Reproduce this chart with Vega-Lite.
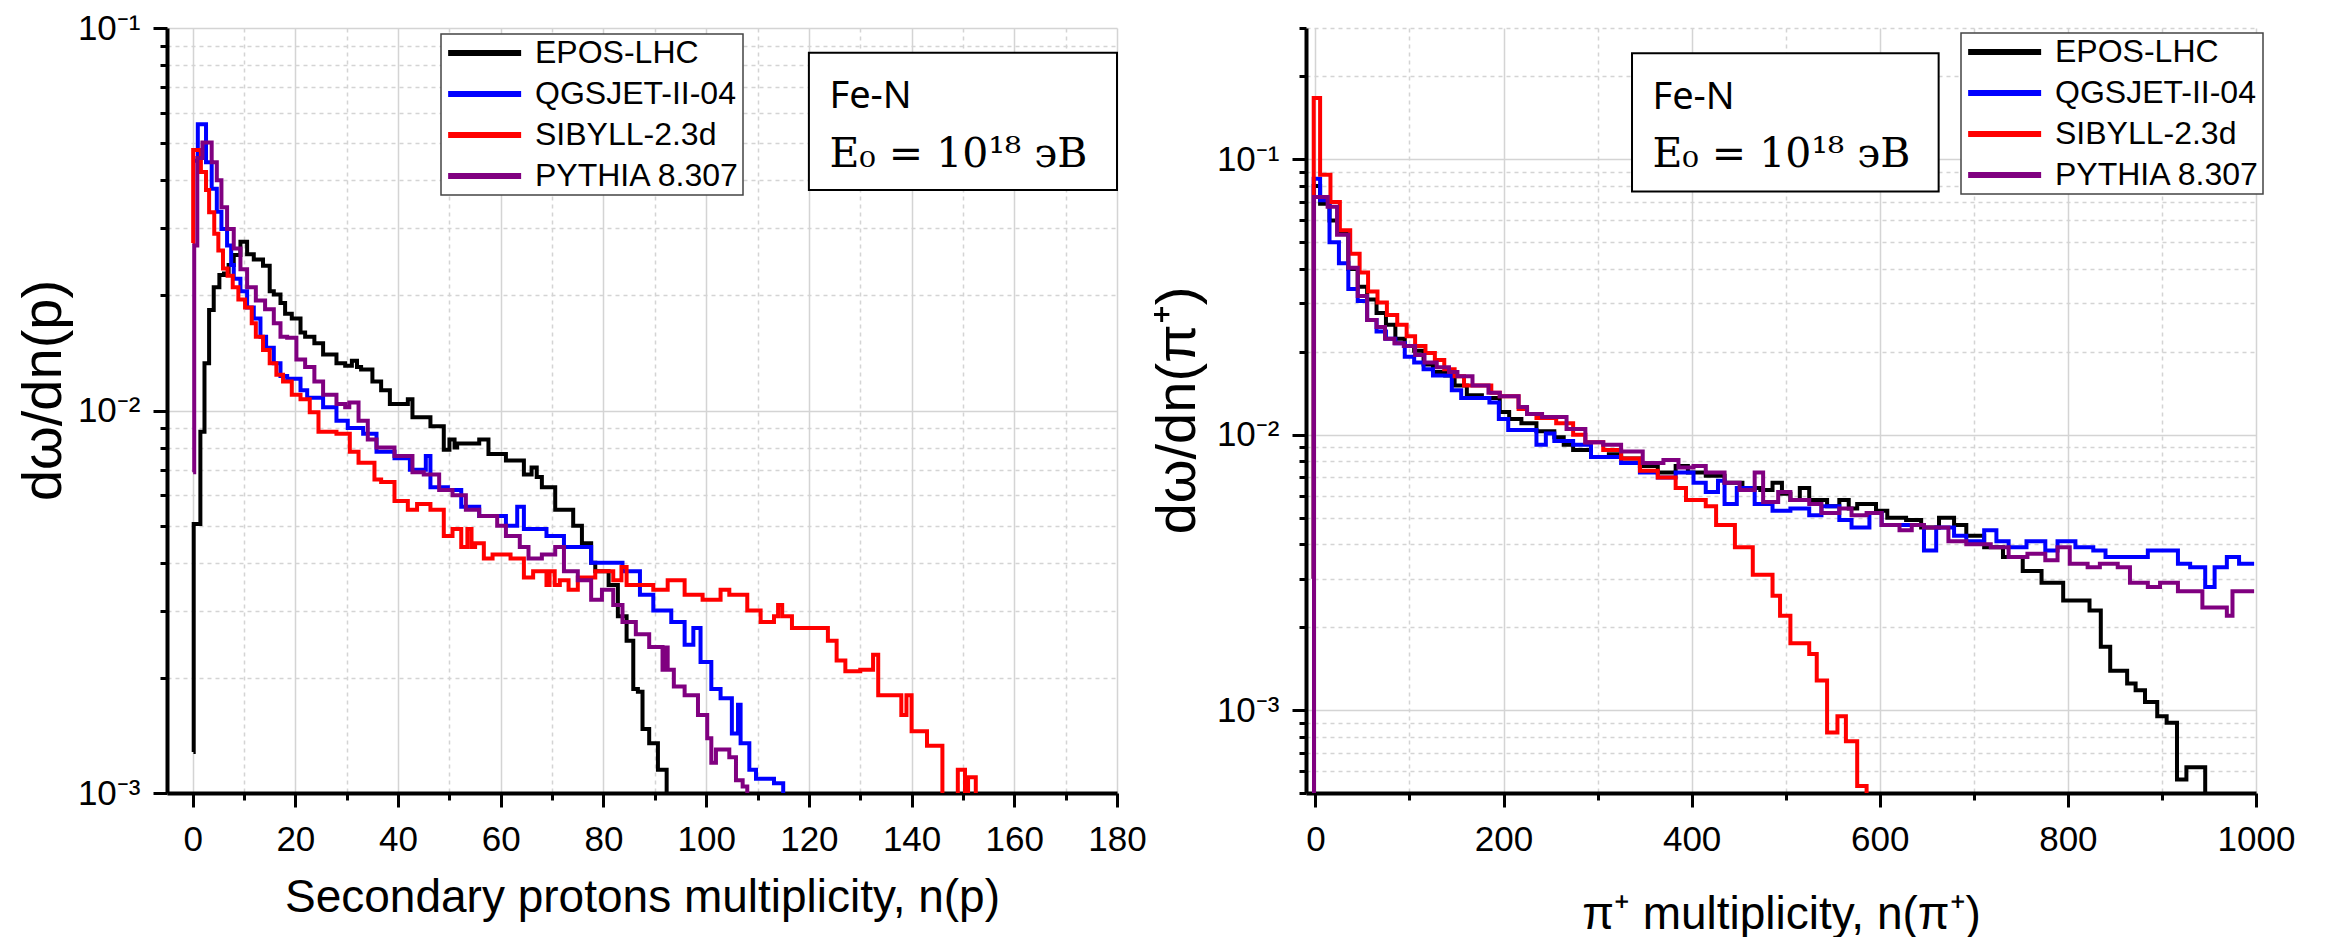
{
"$schema": "https://vega.github.io/schema/vega-lite/v6.json",
"padding": {"left": 15, "top": 11, "right": 0, "bottom": 0},
"spacing": 189,
"bounds": "flush",
"datasets": {
"p": [
{"s":"EPOS-LHC","n":0.15,"v":0.00128},{"s":"EPOS-LHC","n":0.2,"v":0.00505},{"s":"EPOS-LHC","n":1.5,"v":0.0088},{"s":"EPOS-LHC","n":2.3,"v":0.0133},{"s":"EPOS-LHC","n":3.2,"v":0.0183},{"s":"EPOS-LHC","n":4.1,"v":0.021},{"s":"EPOS-LHC","n":5.2,"v":0.0226},{"s":"EPOS-LHC","n":6.1,"v":0.0228},{"s":"EPOS-LHC","n":7,"v":0.024},{"s":"EPOS-LHC","n":8,"v":0.0255},{"s":"EPOS-LHC","n":9.3,"v":0.0276},{"s":"EPOS-LHC","n":10.6,"v":0.0256},{"s":"EPOS-LHC","n":11.9,"v":0.0248},{"s":"EPOS-LHC","n":13.7,"v":0.0239},{"s":"EPOS-LHC","n":15,"v":0.0205},{"s":"EPOS-LHC","n":15.8,"v":0.0201},{"s":"EPOS-LHC","n":17.1,"v":0.0191},{"s":"EPOS-LHC","n":18,"v":0.0179},{"s":"EPOS-LHC","n":19.3,"v":0.0174},{"s":"EPOS-LHC","n":21,"v":0.016},{"s":"EPOS-LHC","n":21.9,"v":0.0156},{"s":"EPOS-LHC","n":23.7,"v":0.015},{"s":"EPOS-LHC","n":25.4,"v":0.014},{"s":"EPOS-LHC","n":28,"v":0.0133},{"s":"EPOS-LHC","n":29.7,"v":0.0131},{"s":"EPOS-LHC","n":31,"v":0.0135},{"s":"EPOS-LHC","n":32,"v":0.013},{"s":"EPOS-LHC","n":32.8,"v":0.0128},{"s":"EPOS-LHC","n":35,"v":0.0119},{"s":"EPOS-LHC","n":36.7,"v":0.0113},{"s":"EPOS-LHC","n":38.4,"v":0.0104},{"s":"EPOS-LHC","n":41.9,"v":0.0107},{"s":"EPOS-LHC","n":42.8,"v":0.0096},{"s":"EPOS-LHC","n":46.3,"v":0.0091},{"s":"EPOS-LHC","n":48.9,"v":0.0079},{"s":"EPOS-LHC","n":50,"v":0.0084},{"s":"EPOS-LHC","n":51,"v":0.008},{"s":"EPOS-LHC","n":51.5,"v":0.0082},{"s":"EPOS-LHC","n":55.8,"v":0.0084},{"s":"EPOS-LHC","n":57.6,"v":0.0077},{"s":"EPOS-LHC","n":61,"v":0.0074},{"s":"EPOS-LHC","n":64.5,"v":0.0068},{"s":"EPOS-LHC","n":66,"v":0.0071},{"s":"EPOS-LHC","n":67,"v":0.0067},{"s":"EPOS-LHC","n":68,"v":0.0063},{"s":"EPOS-LHC","n":70.6,"v":0.0055},{"s":"EPOS-LHC","n":72.3,"v":0.0055},{"s":"EPOS-LHC","n":74.1,"v":0.005},{"s":"EPOS-LHC","n":75.8,"v":0.0045},{"s":"EPOS-LHC","n":77.6,"v":0.004},{"s":"EPOS-LHC","n":78.4,"v":0.0038},{"s":"EPOS-LHC","n":81,"v":0.0035},{"s":"EPOS-LHC","n":82.8,"v":0.0029},{"s":"EPOS-LHC","n":84.5,"v":0.0025},{"s":"EPOS-LHC","n":85.8,"v":0.00187},{"s":"EPOS-LHC","n":86.7,"v":0.00184},{"s":"EPOS-LHC","n":87.6,"v":0.00147},{"s":"EPOS-LHC","n":88.9,"v":0.00135},{"s":"EPOS-LHC","n":90.6,"v":0.00115},{"s":"EPOS-LHC","n":92.3,"v":0.0005},
{"s":"QGSJET-II-04","n":0.2,"v":0.045},{"s":"QGSJET-II-04","n":1,"v":0.056},{"s":"QGSJET-II-04","n":2.6,"v":0.0446},{"s":"QGSJET-II-04","n":3.7,"v":0.038},{"s":"QGSJET-II-04","n":4.7,"v":0.0331},{"s":"QGSJET-II-04","n":5.6,"v":0.0298},{"s":"QGSJET-II-04","n":6.7,"v":0.027},{"s":"QGSJET-II-04","n":7.5,"v":0.024},{"s":"QGSJET-II-04","n":8,"v":0.0221},{"s":"QGSJET-II-04","n":9.3,"v":0.0205},{"s":"QGSJET-II-04","n":10.6,"v":0.0186},{"s":"QGSJET-II-04","n":11.9,"v":0.0174},{"s":"QGSJET-II-04","n":13.2,"v":0.0156},{"s":"QGSJET-II-04","n":14.3,"v":0.0146},{"s":"QGSJET-II-04","n":15.8,"v":0.0133},{"s":"QGSJET-II-04","n":17.1,"v":0.0123},{"s":"QGSJET-II-04","n":18.4,"v":0.0121},{"s":"QGSJET-II-04","n":21,"v":0.0113},{"s":"QGSJET-II-04","n":22.3,"v":0.0108},{"s":"QGSJET-II-04","n":25.4,"v":0.0102},{"s":"QGSJET-II-04","n":28,"v":0.0094},{"s":"QGSJET-II-04","n":30.2,"v":0.009},{"s":"QGSJET-II-04","n":33.2,"v":0.0087},{"s":"QGSJET-II-04","n":35.8,"v":0.0078},{"s":"QGSJET-II-04","n":39.3,"v":0.0075},{"s":"QGSJET-II-04","n":42.3,"v":0.007},{"s":"QGSJET-II-04","n":45.4,"v":0.0076},{"s":"QGSJET-II-04","n":46.3,"v":0.0063},{"s":"QGSJET-II-04","n":49.7,"v":0.0062},{"s":"QGSJET-II-04","n":52.3,"v":0.0056},{"s":"QGSJET-II-04","n":55.8,"v":0.0053},{"s":"QGSJET-II-04","n":61,"v":0.005},{"s":"QGSJET-II-04","n":63.2,"v":0.0056},{"s":"QGSJET-II-04","n":64.5,"v":0.0049},{"s":"QGSJET-II-04","n":68.9,"v":0.0047},{"s":"QGSJET-II-04","n":72.3,"v":0.0044},{"s":"QGSJET-II-04","n":77.6,"v":0.004},{"s":"QGSJET-II-04","n":83.7,"v":0.0038},{"s":"QGSJET-II-04","n":87.1,"v":0.0033},{"s":"QGSJET-II-04","n":89.7,"v":0.003},{"s":"QGSJET-II-04","n":93.2,"v":0.0028},{"s":"QGSJET-II-04","n":95.8,"v":0.00244},{"s":"QGSJET-II-04","n":97.5,"v":0.0027},{"s":"QGSJET-II-04","n":98.9,"v":0.0022},{"s":"QGSJET-II-04","n":101,"v":0.00187},{"s":"QGSJET-II-04","n":102.8,"v":0.00177},{"s":"QGSJET-II-04","n":105,"v":0.00143},{"s":"QGSJET-II-04","n":106.2,"v":0.0017},{"s":"QGSJET-II-04","n":106.7,"v":0.00135},{"s":"QGSJET-II-04","n":108.4,"v":0.00115},{"s":"QGSJET-II-04","n":109.7,"v":0.00109},{"s":"QGSJET-II-04","n":113.2,"v":0.00106},{"s":"QGSJET-II-04","n":115,"v":0.0005},
{"s":"SIBYLL-2.3d","n":0,"v":0.0274},{"s":"SIBYLL-2.3d","n":0.1,"v":0.048},{"s":"SIBYLL-2.3d","n":1.6,"v":0.042},{"s":"SIBYLL-2.3d","n":2.6,"v":0.0377},{"s":"SIBYLL-2.3d","n":3.2,"v":0.033},{"s":"SIBYLL-2.3d","n":4.2,"v":0.029},{"s":"SIBYLL-2.3d","n":5,"v":0.0262},{"s":"SIBYLL-2.3d","n":5.9,"v":0.0235},{"s":"SIBYLL-2.3d","n":6.8,"v":0.0225},{"s":"SIBYLL-2.3d","n":7.8,"v":0.021},{"s":"SIBYLL-2.3d","n":8.9,"v":0.0195},{"s":"SIBYLL-2.3d","n":10.2,"v":0.0186},{"s":"SIBYLL-2.3d","n":11.5,"v":0.0169},{"s":"SIBYLL-2.3d","n":12.3,"v":0.0156},{"s":"SIBYLL-2.3d","n":13.7,"v":0.0144},{"s":"SIBYLL-2.3d","n":15,"v":0.0133},{"s":"SIBYLL-2.3d","n":16.3,"v":0.0124},{"s":"SIBYLL-2.3d","n":17.6,"v":0.0119},{"s":"SIBYLL-2.3d","n":19.3,"v":0.011},{"s":"SIBYLL-2.3d","n":21,"v":0.0107},{"s":"SIBYLL-2.3d","n":22.8,"v":0.0099},{"s":"SIBYLL-2.3d","n":24.5,"v":0.0088},{"s":"SIBYLL-2.3d","n":28,"v":0.0087},{"s":"SIBYLL-2.3d","n":30.6,"v":0.0078},{"s":"SIBYLL-2.3d","n":32.3,"v":0.0073},{"s":"SIBYLL-2.3d","n":35.4,"v":0.0066},{"s":"SIBYLL-2.3d","n":36.7,"v":0.0065},{"s":"SIBYLL-2.3d","n":39.3,"v":0.0058},{"s":"SIBYLL-2.3d","n":41.9,"v":0.0055},{"s":"SIBYLL-2.3d","n":43.7,"v":0.0057},{"s":"SIBYLL-2.3d","n":46.3,"v":0.0055},{"s":"SIBYLL-2.3d","n":48.9,"v":0.0047},{"s":"SIBYLL-2.3d","n":50.6,"v":0.0049},{"s":"SIBYLL-2.3d","n":52.3,"v":0.0044},{"s":"SIBYLL-2.3d","n":53.5,"v":0.0049},{"s":"SIBYLL-2.3d","n":54.3,"v":0.0044},{"s":"SIBYLL-2.3d","n":55,"v":0.0045},{"s":"SIBYLL-2.3d","n":56.7,"v":0.0041},{"s":"SIBYLL-2.3d","n":58.4,"v":0.0042},{"s":"SIBYLL-2.3d","n":61.9,"v":0.0041},{"s":"SIBYLL-2.3d","n":64.5,"v":0.00366},{"s":"SIBYLL-2.3d","n":66.3,"v":0.0038},{"s":"SIBYLL-2.3d","n":68.9,"v":0.0035},{"s":"SIBYLL-2.3d","n":69.5,"v":0.0038},{"s":"SIBYLL-2.3d","n":70.5,"v":0.0035},{"s":"SIBYLL-2.3d","n":71.5,"v":0.0036},{"s":"SIBYLL-2.3d","n":73.2,"v":0.0034},{"s":"SIBYLL-2.3d","n":75,"v":0.00366},{"s":"SIBYLL-2.3d","n":78.4,"v":0.0038},{"s":"SIBYLL-2.3d","n":81.9,"v":0.0036},{"s":"SIBYLL-2.3d","n":83.5,"v":0.0039},{"s":"SIBYLL-2.3d","n":84.5,"v":0.0035},{"s":"SIBYLL-2.3d","n":87.1,"v":0.0035},{"s":"SIBYLL-2.3d","n":89.7,"v":0.0034},{"s":"SIBYLL-2.3d","n":92.5,"v":0.0036},{"s":"SIBYLL-2.3d","n":95.8,"v":0.0033},{"s":"SIBYLL-2.3d","n":99.3,"v":0.0032},{"s":"SIBYLL-2.3d","n":102.8,"v":0.0034},{"s":"SIBYLL-2.3d","n":104.5,"v":0.0033},{"s":"SIBYLL-2.3d","n":108,"v":0.003},{"s":"SIBYLL-2.3d","n":110.6,"v":0.0028},{"s":"SIBYLL-2.3d","n":113.2,"v":0.0029},{"s":"SIBYLL-2.3d","n":114,"v":0.0031},{"s":"SIBYLL-2.3d","n":114.8,"v":0.0029},{"s":"SIBYLL-2.3d","n":116.7,"v":0.0027},{"s":"SIBYLL-2.3d","n":120.2,"v":0.0027},{"s":"SIBYLL-2.3d","n":123.7,"v":0.0025},{"s":"SIBYLL-2.3d","n":125.4,"v":0.00222},{"s":"SIBYLL-2.3d","n":127.1,"v":0.00208},{"s":"SIBYLL-2.3d","n":130,"v":0.0021},{"s":"SIBYLL-2.3d","n":132.5,"v":0.0023},{"s":"SIBYLL-2.3d","n":133.5,"v":0.0018},{"s":"SIBYLL-2.3d","n":138,"v":0.0016},{"s":"SIBYLL-2.3d","n":139,"v":0.0018},{"s":"SIBYLL-2.3d","n":140,"v":0.00145},{"s":"SIBYLL-2.3d","n":143,"v":0.00133},{"s":"SIBYLL-2.3d","n":146,"v":0.0008},{"s":"SIBYLL-2.3d","n":149,"v":0.00115},{"s":"SIBYLL-2.3d","n":150.4,"v":0.001},{"s":"SIBYLL-2.3d","n":151,"v":0.0011},{"s":"SIBYLL-2.3d","n":152.5,"v":0.0005},
{"s":"PYTHIA 8.307","n":0.1,"v":0.0069},{"s":"PYTHIA 8.307","n":0.3,"v":0.027},{"s":"PYTHIA 8.307","n":0.9,"v":0.0457},{"s":"PYTHIA 8.307","n":1.9,"v":0.0502},{"s":"PYTHIA 8.307","n":3.7,"v":0.0446},{"s":"PYTHIA 8.307","n":4.7,"v":0.04},{"s":"PYTHIA 8.307","n":5.6,"v":0.034},{"s":"PYTHIA 8.307","n":6.7,"v":0.0298},{"s":"PYTHIA 8.307","n":8,"v":0.0265},{"s":"PYTHIA 8.307","n":9.3,"v":0.0234},{"s":"PYTHIA 8.307","n":10.6,"v":0.021},{"s":"PYTHIA 8.307","n":12.3,"v":0.0194},{"s":"PYTHIA 8.307","n":14.1,"v":0.0184},{"s":"PYTHIA 8.307","n":15.8,"v":0.0169},{"s":"PYTHIA 8.307","n":17.1,"v":0.0156},{"s":"PYTHIA 8.307","n":18.4,"v":0.0155},{"s":"PYTHIA 8.307","n":20.2,"v":0.0136},{"s":"PYTHIA 8.307","n":21.9,"v":0.013},{"s":"PYTHIA 8.307","n":23.7,"v":0.0119},{"s":"PYTHIA 8.307","n":25.4,"v":0.011},{"s":"PYTHIA 8.307","n":28,"v":0.0104},{"s":"PYTHIA 8.307","n":29.7,"v":0.0102},{"s":"PYTHIA 8.307","n":30.5,"v":0.0105},{"s":"PYTHIA 8.307","n":32.3,"v":0.0094},{"s":"PYTHIA 8.307","n":34.1,"v":0.0084},{"s":"PYTHIA 8.307","n":35.8,"v":0.008},{"s":"PYTHIA 8.307","n":39.3,"v":0.0076},{"s":"PYTHIA 8.307","n":42.8,"v":0.0069},{"s":"PYTHIA 8.307","n":45,"v":0.0068},{"s":"PYTHIA 8.307","n":48,"v":0.0062},{"s":"PYTHIA 8.307","n":50.6,"v":0.006},{"s":"PYTHIA 8.307","n":53.2,"v":0.0055},{"s":"PYTHIA 8.307","n":55.8,"v":0.0053},{"s":"PYTHIA 8.307","n":59.3,"v":0.005},{"s":"PYTHIA 8.307","n":61,"v":0.0047},{"s":"PYTHIA 8.307","n":63.7,"v":0.0044},{"s":"PYTHIA 8.307","n":65.4,"v":0.0041},{"s":"PYTHIA 8.307","n":68,"v":0.0042},{"s":"PYTHIA 8.307","n":70.6,"v":0.0044},{"s":"PYTHIA 8.307","n":72.3,"v":0.0038},{"s":"PYTHIA 8.307","n":75,"v":0.0036},{"s":"PYTHIA 8.307","n":77.6,"v":0.0032},{"s":"PYTHIA 8.307","n":79.7,"v":0.0034},{"s":"PYTHIA 8.307","n":81.9,"v":0.0031},{"s":"PYTHIA 8.307","n":83.7,"v":0.0028},{"s":"PYTHIA 8.307","n":86.3,"v":0.0026},{"s":"PYTHIA 8.307","n":88.9,"v":0.00241},{"s":"PYTHIA 8.307","n":91.5,"v":0.0021},{"s":"PYTHIA 8.307","n":92,"v":0.0024},{"s":"PYTHIA 8.307","n":92.5,"v":0.0021},{"s":"PYTHIA 8.307","n":93.7,"v":0.0019},{"s":"PYTHIA 8.307","n":95.8,"v":0.0018},{"s":"PYTHIA 8.307","n":98.4,"v":0.0016},{"s":"PYTHIA 8.307","n":100.2,"v":0.00139},{"s":"PYTHIA 8.307","n":101,"v":0.0012},{"s":"PYTHIA 8.307","n":101.9,"v":0.0013},{"s":"PYTHIA 8.307","n":104.5,"v":0.00124},{"s":"PYTHIA 8.307","n":105.8,"v":0.00108},{"s":"PYTHIA 8.307","n":107.1,"v":0.00104},{"s":"PYTHIA 8.307","n":108,"v":0.0005}
],
"pi": [
{"s":"EPOS-LHC","n":-2,"v":0.003},{"s":"EPOS-LHC","n":-1.8,"v":0.08},{"s":"EPOS-LHC","n":5,"v":0.069},{"s":"EPOS-LHC","n":15,"v":0.06},{"s":"EPOS-LHC","n":25,"v":0.054},{"s":"EPOS-LHC","n":35,"v":0.04},{"s":"EPOS-LHC","n":45,"v":0.0345},{"s":"EPOS-LHC","n":55,"v":0.031},{"s":"EPOS-LHC","n":65,"v":0.0277},{"s":"EPOS-LHC","n":75,"v":0.0251},{"s":"EPOS-LHC","n":85,"v":0.0223},{"s":"EPOS-LHC","n":95,"v":0.021},{"s":"EPOS-LHC","n":105,"v":0.0202},{"s":"EPOS-LHC","n":115,"v":0.018},{"s":"EPOS-LHC","n":125,"v":0.0169},{"s":"EPOS-LHC","n":138,"v":0.0164},{"s":"EPOS-LHC","n":148,"v":0.0151},{"s":"EPOS-LHC","n":161,"v":0.0139},{"s":"EPOS-LHC","n":177,"v":0.0136},{"s":"EPOS-LHC","n":196,"v":0.0121},{"s":"EPOS-LHC","n":206,"v":0.0114},{"s":"EPOS-LHC","n":219,"v":0.011},{"s":"EPOS-LHC","n":235,"v":0.0103},{"s":"EPOS-LHC","n":254,"v":0.0098},{"s":"EPOS-LHC","n":264,"v":0.0092},{"s":"EPOS-LHC","n":274,"v":0.0088},{"s":"EPOS-LHC","n":293,"v":0.0083},{"s":"EPOS-LHC","n":312,"v":0.0085},{"s":"EPOS-LHC","n":325,"v":0.0082},{"s":"EPOS-LHC","n":345,"v":0.0077},{"s":"EPOS-LHC","n":364,"v":0.0073},{"s":"EPOS-LHC","n":383,"v":0.0077},{"s":"EPOS-LHC","n":396,"v":0.0073},{"s":"EPOS-LHC","n":415,"v":0.0071},{"s":"EPOS-LHC","n":435,"v":0.0067},{"s":"EPOS-LHC","n":454,"v":0.0064},{"s":"EPOS-LHC","n":473,"v":0.0063},{"s":"EPOS-LHC","n":486,"v":0.0067},{"s":"EPOS-LHC","n":496,"v":0.0061},{"s":"EPOS-LHC","n":505,"v":0.0058},{"s":"EPOS-LHC","n":515,"v":0.0064},{"s":"EPOS-LHC","n":525,"v":0.0058},{"s":"EPOS-LHC","n":544,"v":0.0055},{"s":"EPOS-LHC","n":557,"v":0.0058},{"s":"EPOS-LHC","n":567,"v":0.0054},{"s":"EPOS-LHC","n":576,"v":0.0056},{"s":"EPOS-LHC","n":596,"v":0.0053},{"s":"EPOS-LHC","n":608,"v":0.005},{"s":"EPOS-LHC","n":628,"v":0.0049},{"s":"EPOS-LHC","n":644,"v":0.0046},{"s":"EPOS-LHC","n":663,"v":0.005},{"s":"EPOS-LHC","n":679,"v":0.0047},{"s":"EPOS-LHC","n":692,"v":0.0043},{"s":"EPOS-LHC","n":711,"v":0.0039},{"s":"EPOS-LHC","n":731,"v":0.0036},{"s":"EPOS-LHC","n":752,"v":0.0032},{"s":"EPOS-LHC","n":772,"v":0.0029},{"s":"EPOS-LHC","n":795,"v":0.0025},{"s":"EPOS-LHC","n":823,"v":0.0023},{"s":"EPOS-LHC","n":835,"v":0.0017},{"s":"EPOS-LHC","n":845,"v":0.00139},{"s":"EPOS-LHC","n":863,"v":0.00125},{"s":"EPOS-LHC","n":872,"v":0.00118},{"s":"EPOS-LHC","n":882,"v":0.00107},{"s":"EPOS-LHC","n":895,"v":0.00095},{"s":"EPOS-LHC","n":905,"v":0.0009},{"s":"EPOS-LHC","n":916,"v":0.00056},{"s":"EPOS-LHC","n":926,"v":0.00062},{"s":"EPOS-LHC","n":946,"v":0.0001},
{"s":"QGSJET-II-04","n":-2,"v":0.003},{"s":"QGSJET-II-04","n":-1.8,"v":0.085},{"s":"QGSJET-II-04","n":5,"v":0.071},{"s":"QGSJET-II-04","n":15,"v":0.05},{"s":"QGSJET-II-04","n":25,"v":0.042},{"s":"QGSJET-II-04","n":35,"v":0.0338},{"s":"QGSJET-II-04","n":45,"v":0.0306},{"s":"QGSJET-II-04","n":55,"v":0.0261},{"s":"QGSJET-II-04","n":65,"v":0.0237},{"s":"QGSJET-II-04","n":75,"v":0.0223},{"s":"QGSJET-II-04","n":85,"v":0.0215},{"s":"QGSJET-II-04","n":95,"v":0.0192},{"s":"QGSJET-II-04","n":105,"v":0.0183},{"s":"QGSJET-II-04","n":115,"v":0.0173},{"s":"QGSJET-II-04","n":125,"v":0.0164},{"s":"QGSJET-II-04","n":145,"v":0.0145},{"s":"QGSJET-II-04","n":155,"v":0.0136},{"s":"QGSJET-II-04","n":185,"v":0.0131},{"s":"QGSJET-II-04","n":195,"v":0.0114},{"s":"QGSJET-II-04","n":205,"v":0.0104},{"s":"QGSJET-II-04","n":235,"v":0.0092},{"s":"QGSJET-II-04","n":245,"v":0.0101},{"s":"QGSJET-II-04","n":254,"v":0.0095},{"s":"QGSJET-II-04","n":274,"v":0.0092},{"s":"QGSJET-II-04","n":293,"v":0.0083},{"s":"QGSJET-II-04","n":325,"v":0.0079},{"s":"QGSJET-II-04","n":345,"v":0.0073},{"s":"QGSJET-II-04","n":364,"v":0.007},{"s":"QGSJET-II-04","n":383,"v":0.0073},{"s":"QGSJET-II-04","n":402,"v":0.0067},{"s":"QGSJET-II-04","n":415,"v":0.0062},{"s":"QGSJET-II-04","n":428,"v":0.0068},{"s":"QGSJET-II-04","n":435,"v":0.0056},{"s":"QGSJET-II-04","n":448,"v":0.0064},{"s":"QGSJET-II-04","n":467,"v":0.0056},{"s":"QGSJET-II-04","n":486,"v":0.0053},{"s":"QGSJET-II-04","n":505,"v":0.0054},{"s":"QGSJET-II-04","n":525,"v":0.0051},{"s":"QGSJET-II-04","n":538,"v":0.0055},{"s":"QGSJET-II-04","n":557,"v":0.0049},{"s":"QGSJET-II-04","n":570,"v":0.0046},{"s":"QGSJET-II-04","n":589,"v":0.0052},{"s":"QGSJET-II-04","n":602,"v":0.0047},{"s":"QGSJET-II-04","n":647,"v":0.0038},{"s":"QGSJET-II-04","n":660,"v":0.0046},{"s":"QGSJET-II-04","n":679,"v":0.0043},{"s":"QGSJET-II-04","n":692,"v":0.0041},{"s":"QGSJET-II-04","n":711,"v":0.0045},{"s":"QGSJET-II-04","n":724,"v":0.0041},{"s":"QGSJET-II-04","n":737,"v":0.0039},{"s":"QGSJET-II-04","n":756,"v":0.0041},{"s":"QGSJET-II-04","n":776,"v":0.0038},{"s":"QGSJET-II-04","n":789,"v":0.0041},{"s":"QGSJET-II-04","n":808,"v":0.0039},{"s":"QGSJET-II-04","n":827,"v":0.0038},{"s":"QGSJET-II-04","n":840,"v":0.0036},{"s":"QGSJET-II-04","n":885,"v":0.0038},{"s":"QGSJET-II-04","n":917,"v":0.0034},{"s":"QGSJET-II-04","n":930,"v":0.0033},{"s":"QGSJET-II-04","n":946,"v":0.0028},{"s":"QGSJET-II-04","n":956,"v":0.0033},{"s":"QGSJET-II-04","n":969,"v":0.0036},{"s":"QGSJET-II-04","n":982,"v":0.0034},{"s":"QGSJET-II-04","n":998,"v":0.0034},
{"s":"SIBYLL-2.3d","n":-2,"v":0.003},{"s":"SIBYLL-2.3d","n":-1.8,"v":0.167},{"s":"SIBYLL-2.3d","n":5,"v":0.088},{"s":"SIBYLL-2.3d","n":16,"v":0.07},{"s":"SIBYLL-2.3d","n":26,"v":0.0553},{"s":"SIBYLL-2.3d","n":37,"v":0.0454},{"s":"SIBYLL-2.3d","n":47,"v":0.0388},{"s":"SIBYLL-2.3d","n":56,"v":0.0331},{"s":"SIBYLL-2.3d","n":66,"v":0.0302},{"s":"SIBYLL-2.3d","n":76,"v":0.0272},{"s":"SIBYLL-2.3d","n":87,"v":0.0251},{"s":"SIBYLL-2.3d","n":97,"v":0.0228},{"s":"SIBYLL-2.3d","n":106,"v":0.021},{"s":"SIBYLL-2.3d","n":117,"v":0.0198},{"s":"SIBYLL-2.3d","n":127,"v":0.0187},{"s":"SIBYLL-2.3d","n":137,"v":0.0173},{"s":"SIBYLL-2.3d","n":148,"v":0.0163},{"s":"SIBYLL-2.3d","n":158,"v":0.0151},{"s":"SIBYLL-2.3d","n":187,"v":0.0142},{"s":"SIBYLL-2.3d","n":196,"v":0.0138},{"s":"SIBYLL-2.3d","n":216,"v":0.0124},{"s":"SIBYLL-2.3d","n":225,"v":0.0119},{"s":"SIBYLL-2.3d","n":235,"v":0.0115},{"s":"SIBYLL-2.3d","n":256,"v":0.011},{"s":"SIBYLL-2.3d","n":274,"v":0.01},{"s":"SIBYLL-2.3d","n":287,"v":0.0094},{"s":"SIBYLL-2.3d","n":306,"v":0.0088},{"s":"SIBYLL-2.3d","n":325,"v":0.0082},{"s":"SIBYLL-2.3d","n":345,"v":0.0074},{"s":"SIBYLL-2.3d","n":364,"v":0.007},{"s":"SIBYLL-2.3d","n":383,"v":0.0064},{"s":"SIBYLL-2.3d","n":394,"v":0.0058},{"s":"SIBYLL-2.3d","n":415,"v":0.0055},{"s":"SIBYLL-2.3d","n":426,"v":0.0047},{"s":"SIBYLL-2.3d","n":446,"v":0.0039},{"s":"SIBYLL-2.3d","n":465,"v":0.0031},{"s":"SIBYLL-2.3d","n":486,"v":0.0026},{"s":"SIBYLL-2.3d","n":494,"v":0.0022},{"s":"SIBYLL-2.3d","n":505,"v":0.00175},{"s":"SIBYLL-2.3d","n":525,"v":0.0016},{"s":"SIBYLL-2.3d","n":533,"v":0.00128},{"s":"SIBYLL-2.3d","n":544,"v":0.00083},{"s":"SIBYLL-2.3d","n":555,"v":0.00095},{"s":"SIBYLL-2.3d","n":564,"v":0.00077},{"s":"SIBYLL-2.3d","n":576,"v":0.00053},{"s":"SIBYLL-2.3d","n":586,"v":0.0001},
{"s":"PYTHIA 8.307","n":-2,"v":0.0002},{"s":"PYTHIA 8.307","n":-1.5,"v":0.073},{"s":"PYTHIA 8.307","n":13,"v":0.0673},{"s":"PYTHIA 8.307","n":23,"v":0.0532},{"s":"PYTHIA 8.307","n":35,"v":0.0404},{"s":"PYTHIA 8.307","n":45,"v":0.0319},{"s":"PYTHIA 8.307","n":55,"v":0.0261},{"s":"PYTHIA 8.307","n":65,"v":0.0246},{"s":"PYTHIA 8.307","n":74,"v":0.0223},{"s":"PYTHIA 8.307","n":84,"v":0.0215},{"s":"PYTHIA 8.307","n":94,"v":0.021},{"s":"PYTHIA 8.307","n":106,"v":0.0195},{"s":"PYTHIA 8.307","n":116,"v":0.0183},{"s":"PYTHIA 8.307","n":129,"v":0.0176},{"s":"PYTHIA 8.307","n":142,"v":0.0169},{"s":"PYTHIA 8.307","n":151,"v":0.0163},{"s":"PYTHIA 8.307","n":167,"v":0.0151},{"s":"PYTHIA 8.307","n":184,"v":0.0142},{"s":"PYTHIA 8.307","n":196,"v":0.0138},{"s":"PYTHIA 8.307","n":216,"v":0.0126},{"s":"PYTHIA 8.307","n":225,"v":0.0119},{"s":"PYTHIA 8.307","n":241,"v":0.0116},{"s":"PYTHIA 8.307","n":267,"v":0.0105},{"s":"PYTHIA 8.307","n":287,"v":0.0094},{"s":"PYTHIA 8.307","n":306,"v":0.0092},{"s":"PYTHIA 8.307","n":325,"v":0.0087},{"s":"PYTHIA 8.307","n":348,"v":0.0079},{"s":"PYTHIA 8.307","n":370,"v":0.0081},{"s":"PYTHIA 8.307","n":386,"v":0.0076},{"s":"PYTHIA 8.307","n":402,"v":0.0077},{"s":"PYTHIA 8.307","n":415,"v":0.0073},{"s":"PYTHIA 8.307","n":435,"v":0.0067},{"s":"PYTHIA 8.307","n":451,"v":0.0063},{"s":"PYTHIA 8.307","n":467,"v":0.0073},{"s":"PYTHIA 8.307","n":476,"v":0.0057},{"s":"PYTHIA 8.307","n":492,"v":0.0062},{"s":"PYTHIA 8.307","n":505,"v":0.0058},{"s":"PYTHIA 8.307","n":525,"v":0.0056},{"s":"PYTHIA 8.307","n":538,"v":0.0052},{"s":"PYTHIA 8.307","n":557,"v":0.0054},{"s":"PYTHIA 8.307","n":570,"v":0.0051},{"s":"PYTHIA 8.307","n":586,"v":0.0052},{"s":"PYTHIA 8.307","n":602,"v":0.0047},{"s":"PYTHIA 8.307","n":621,"v":0.0045},{"s":"PYTHIA 8.307","n":634,"v":0.0047},{"s":"PYTHIA 8.307","n":647,"v":0.0046},{"s":"PYTHIA 8.307","n":673,"v":0.0041},{"s":"PYTHIA 8.307","n":692,"v":0.004},{"s":"PYTHIA 8.307","n":718,"v":0.0039},{"s":"PYTHIA 8.307","n":737,"v":0.0036},{"s":"PYTHIA 8.307","n":757,"v":0.0037},{"s":"PYTHIA 8.307","n":776,"v":0.0035},{"s":"PYTHIA 8.307","n":789,"v":0.0039},{"s":"PYTHIA 8.307","n":802,"v":0.0034},{"s":"PYTHIA 8.307","n":821,"v":0.0033},{"s":"PYTHIA 8.307","n":834,"v":0.0034},{"s":"PYTHIA 8.307","n":853,"v":0.0033},{"s":"PYTHIA 8.307","n":866,"v":0.0029},{"s":"PYTHIA 8.307","n":885,"v":0.0028},{"s":"PYTHIA 8.307","n":898,"v":0.0029},{"s":"PYTHIA 8.307","n":917,"v":0.0027},{"s":"PYTHIA 8.307","n":943,"v":0.00236},{"s":"PYTHIA 8.307","n":969,"v":0.0022},{"s":"PYTHIA 8.307","n":975,"v":0.0027},{"s":"PYTHIA 8.307","n":998,"v":0.0027}
]
},
"hconcat": [
{
"width": 950, "height": 765,
"layer": [
{"data": {"name": "p"},
 "mark": {"type": "line", "strokeOpacity": 0, "clip": true},
 "encoding": {
  "x": {"field": "n", "type": "quantitative", "scale": {"domain": [-5, 180], "nice": false, "zero": false},
        "axis": {"orient": "bottom", "values": [10,30,50,70,90,110,130,150,170], "labels": false, "domain": false, "grid": true, "gridDash": [4,4], "tickSize": 7, "title": null}},
  "y": {"field": "v", "type": "quantitative", "scale": {"type": "log", "domain": [0.001, 0.1], "nice": false},
        "axis": {"orient": "left", "values": [0.002,0.003,0.004,0.005,0.006,0.007,0.008,0.009,0.02,0.03,0.04,0.05,0.06,0.07,0.08,0.09], "labels": false, "domain": false, "grid": true, "gridDash": [4,4], "tickSize": 7, "title": null}},
  "detail": {"field": "s", "type": "nominal"}
 }},
{"data": {"name": "p"},
 "mark": {"type": "line", "interpolate": "step-after", "strokeWidth": 4, "clip": true},
 "encoding": {
  "x": {"field": "n", "type": "quantitative", "scale": {"domain": [-5, 180], "nice": false, "zero": false},
        "axis": {"orient": "bottom", "values": [0,20,40,60,80,100,120,140,160,180], "format": "d", "grid": true, "labelPadding": 15,
                 "title": "Secondary protons multiplicity, n(p)", "titleFontSize": 46, "titleBaseline": "alphabetic", "titleY": 118}},
  "y": {"field": "v", "type": "quantitative", "scale": {"type": "log", "domain": [0.001, 0.1], "nice": false},
        "axis": {"orient": "left", "values": [0.001, 0.01, 0.1], "grid": true, "labelPadding": 13,
                 "labelExpr": "datum.value < 0.005 ? '10⁻³' : datum.value < 0.05 ? '10⁻²' : '10⁻¹'",
                 "title": "dω/dn(p)", "titleFontSize": 56, "titleAngle": 270, "titleBaseline": "alphabetic", "titleAlign": "center", "titleX": -107, "titleY": 362}},
  "color": {"field": "s", "type": "nominal",
            "scale": {"domain": ["EPOS-LHC","QGSJET-II-04","SIBYLL-2.3d","PYTHIA 8.307"], "range": ["#000000","#0000ff","#ff0000","#800080"]},
            "legend": {"orient": "none", "legendX": 274, "legendY": 6}}
 }},
{"data": {"values": [{"x1": 120, "x2": 180, "y1": 0.0377, "y2": 0.0861}]},
 "mark": {"type": "rect", "fill": "white", "stroke": "black", "strokeWidth": 2},
 "encoding": {
  "x": {"field": "x1", "type": "quantitative", "scale": {"domain": [-5, 180], "nice": false, "zero": false}, "axis": null},
  "x2": {"field": "x2"},
  "y": {"field": "y1", "type": "quantitative", "scale": {"type": "log", "domain": [0.001, 0.1], "nice": false}, "axis": null},
  "y2": {"field": "y2"}
 }},
{"data": {"values": [{"x": 124, "y": 0.0618, "t": "Fe-N"}]},
 "mark": {"type": "text", "align": "left", "baseline": "alphabetic", "font": "Noto Sans", "fontSize": 38, "color": "black"},
 "encoding": {
  "x": {"field": "x", "type": "quantitative", "scale": {"domain": [-5, 180], "nice": false, "zero": false}, "axis": null},
  "y": {"field": "y", "type": "quantitative", "scale": {"type": "log", "domain": [0.001, 0.1], "nice": false}, "axis": null},
  "text": {"field": "t"}
 }},
{"data": {"values": [{"x": 124, "y": 0.0434, "t": "E₀ = 10¹⁸ эВ"}]},
 "mark": {"type": "text", "align": "left", "baseline": "alphabetic", "font": "DejaVu Serif", "fontSize": 41, "color": "black"},
 "encoding": {
  "x": {"field": "x", "type": "quantitative", "scale": {"domain": [-5, 180], "nice": false, "zero": false}, "axis": null},
  "y": {"field": "y", "type": "quantitative", "scale": {"type": "log", "domain": [0.001, 0.1], "nice": false}, "axis": null},
  "text": {"field": "t"}
 }}
],
"resolve": {"axis": {"x": "independent", "y": "independent"}}
},
{
"width": 950, "height": 765,
"layer": [
{"data": {"name": "pi"},
 "mark": {"type": "line", "strokeOpacity": 0, "clip": true},
 "encoding": {
  "x": {"field": "n", "type": "quantitative", "scale": {"domain": [-10, 1000], "nice": false, "zero": false},
        "axis": {"orient": "bottom", "values": [100,300,500,700,900], "labels": false, "domain": false, "grid": true, "gridDash": [4,4], "tickSize": 7, "title": null}},
  "y": {"field": "v", "type": "quantitative", "scale": {"type": "log", "domain": [0.0005, 0.3], "nice": false},
        "axis": {"orient": "left", "values": [0.0005,0.0006,0.0007,0.0008,0.0009,0.002,0.003,0.004,0.005,0.006,0.007,0.008,0.009,0.02,0.03,0.04,0.05,0.06,0.07,0.08,0.09,0.2,0.3], "labels": false, "domain": false, "grid": true, "gridDash": [4,4], "tickSize": 7, "title": null}},
  "detail": {"field": "s", "type": "nominal"}
 }},
{"data": {"name": "pi"},
 "mark": {"type": "line", "interpolate": "step-after", "strokeWidth": 4, "clip": true},
 "encoding": {
  "x": {"field": "n", "type": "quantitative", "scale": {"domain": [-10, 1000], "nice": false, "zero": false},
        "axis": {"orient": "bottom", "values": [0,200,400,600,800,1000], "format": "d", "grid": true, "labelPadding": 15,
                 "title": "π⁺ multiplicity, n(π⁺)", "titleFontSize": 46, "titleBaseline": "alphabetic", "titleY": 135}},
  "y": {"field": "v", "type": "quantitative", "scale": {"type": "log", "domain": [0.0005, 0.3], "nice": false},
        "axis": {"orient": "left", "values": [0.001, 0.01, 0.1], "grid": true, "labelPadding": 13,
                 "labelExpr": "datum.value < 0.005 ? '10⁻³' : datum.value < 0.05 ? '10⁻²' : '10⁻¹'",
                 "title": "dω/dn(π⁺)", "titleFontSize": 56, "titleAngle": 270, "titleBaseline": "alphabetic", "titleAlign": "center", "titleX": -112, "titleY": 382}},
  "color": {"field": "s", "type": "nominal",
            "scale": {"domain": ["EPOS-LHC","QGSJET-II-04","SIBYLL-2.3d","PYTHIA 8.307"], "range": ["#000000","#0000ff","#ff0000","#800080"]},
            "legend": {"orient": "none", "legendX": 655, "legendY": 5}}
 }},
{"data": {"values": [{"x1": 336.6, "x2": 662.6, "y1": 0.0765, "y2": 0.2427}]},
 "mark": {"type": "rect", "fill": "white", "stroke": "black", "strokeWidth": 2},
 "encoding": {
  "x": {"field": "x1", "type": "quantitative", "scale": {"domain": [-10, 1000], "nice": false, "zero": false}, "axis": null},
  "x2": {"field": "x2"},
  "y": {"field": "y1", "type": "quantitative", "scale": {"type": "log", "domain": [0.0005, 0.3], "nice": false}, "axis": null},
  "y2": {"field": "y2"}
 }},
{"data": {"values": [{"x": 358.3, "y": 0.153, "t": "Fe-N"}]},
 "mark": {"type": "text", "align": "left", "baseline": "alphabetic", "font": "Noto Sans", "fontSize": 38, "color": "black"},
 "encoding": {
  "x": {"field": "x", "type": "quantitative", "scale": {"domain": [-10, 1000], "nice": false, "zero": false}, "axis": null},
  "y": {"field": "y", "type": "quantitative", "scale": {"type": "log", "domain": [0.0005, 0.3], "nice": false}, "axis": null},
  "text": {"field": "t"}
 }},
{"data": {"values": [{"x": 358.3, "y": 0.0935, "t": "E₀ = 10¹⁸ эВ"}]},
 "mark": {"type": "text", "align": "left", "baseline": "alphabetic", "font": "DejaVu Serif", "fontSize": 41, "color": "black"},
 "encoding": {
  "x": {"field": "x", "type": "quantitative", "scale": {"domain": [-10, 1000], "nice": false, "zero": false}, "axis": null},
  "y": {"field": "y", "type": "quantitative", "scale": {"type": "log", "domain": [0.0005, 0.3], "nice": false}, "axis": null},
  "text": {"field": "t"}
 }}
],
"resolve": {"axis": {"x": "independent", "y": "independent"}}
}
],
"resolve": {"scale": {"color": "independent", "x": "independent", "y": "independent"}, "legend": {"color": "independent"}},
"config": {
 "view": {"stroke": null},
 "font": "Liberation Sans, Arial, sans-serif",
 "axis": {
  "labelFont": "Liberation Sans, Arial, sans-serif", "labelFontSize": 35, "labelColor": "#000000",
  "titleFont": "Liberation Sans, Arial, sans-serif", "titleColor": "#000000", "titleFontWeight": "normal",
  "tickColor": "#000000", "tickWidth": 3, "tickSize": 14,
  "domainColor": "#000000", "domainWidth": 4,
  "gridColor": "#d4d4d4", "gridWidth": 1.5,
  "labelFlush": false, "labelOverlap": false
 },
 "legend": {
  "title": null, "symbolType": "M-1.3,0H6.7", "symbolStrokeWidth": 6, "symbolSize": 333,
  "labelFont": "Liberation Sans, Arial, sans-serif", "labelFontSize": 32, "labelColor": "#000000", "labelLimit": 0,
  "labelOffset": 59, "padding": 3, "rowPadding": 9,
  "strokeColor": "#444444", "fillColor": "#ffffff", "strokeWidth": 1.5
 }
}
}
